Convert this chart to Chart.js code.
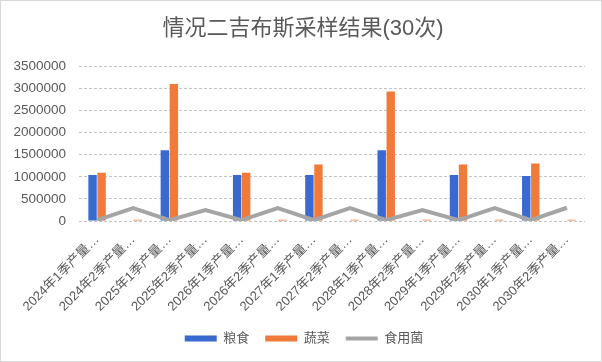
<!DOCTYPE html>
<html>
<head>
<meta charset="utf-8">
<script src="https://cdn.jsdelivr.net/npm/chart.js@4.4.1/dist/chart.umd.min.js"></script>
<style>
  body { margin: 0; background: #fff; }
  .box { width: 602px; height: 362px; box-sizing: border-box; border: 1px solid #d9d9d9; }
  canvas { display: block; }
</style>
</head>
<body>
<div class="box"><canvas id="chart" width="600" height="360"></canvas></div>
<script>
const categories = [
  '2024年1季产量…', '2024年2季产量…', '2025年1季产量…', '2025年2季产量…',
  '2026年1季产量…', '2026年2季产量…', '2027年1季产量…', '2027年2季产量…',
  '2028年1季产量…', '2028年2季产量…', '2029年1季产量…', '2029年2季产量…',
  '2030年1季产量…', '2030年2季产量…'
];
const grain = [1040000, 0, 1600000, 0, 1040000, 0, 1040000, 0, 1600000, 0, 1040000, 0, 1020000, 0];
const vegetables = [1090000, 30000, 3100000, 0, 1090000, 30000, 1280000, 30000, 2930000, 30000, 1280000, 30000, 1300000, 30000];
const mushrooms = [20000, 290000, 20000, 250000, 20000, 290000, 20000, 290000, 20000, 250000, 20000, 290000, 20000, 300000];

const font = '"Liberation Sans", "Noto Sans CJK SC", sans-serif';

// title and legend sit a bit right of the plot centre in the original
const shiftBoxes = {
  id: 'shiftBoxes',
  afterLayout(chart) {
    [[chart.titleBlock, 10], [chart.legend, 11]].forEach(([b, dx]) => {
      b.left += dx; b.right += dx;
    });
  }
};

new Chart(document.getElementById('chart'), {
  data: {
    labels: categories,
    datasets: [
      {
        type: 'bar', label: '粮食', data: grain,
        backgroundColor: '#3a69cf', pointStyle: 'rect',
        barPercentage: 0.93, categoryPercentage: 0.5, order: 1
      },
      {
        type: 'bar', label: '蔬菜', data: vegetables,
        backgroundColor: '#f07a3a', pointStyle: 'rect',
        barPercentage: 0.93, categoryPercentage: 0.5, order: 1
      },
      {
        type: 'line', label: '食用菌', data: mushrooms,
        borderColor: '#a5a5a5', backgroundColor: '#a5a5a5', borderWidth: 4,
        pointRadius: 0, pointStyle: 'line', tension: 0, order: 0
      }
    ]
  },
  plugins: [shiftBoxes],
  options: {
    responsive: false,
    animation: false,
    layout: { padding: { left: 0, right: 16, top: 0, bottom: 6 } },
    plugins: {
      title: {
        display: true,
        text: '情况二吉布斯采样结果(30次)',
        color: '#595959',
        font: { family: font, size: 22, weight: 'normal' },
        padding: { top: 15, bottom: 24 }
      },
      legend: {
        position: 'bottom',
        labels: {
          usePointStyle: true, pointStyleWidth: 32, boxHeight: 6,
          color: '#595959', padding: 16,
          font: { family: font, size: 13 },
          sort: (a, b) => a.datasetIndex - b.datasetIndex
        }
      },
      tooltip: { enabled: false }
    },
    scales: {
      x: {
        grid: { display: false },
        border: { display: false },
        ticks: {
          color: '#595959', maxRotation: 45, minRotation: 45, autoSkip: false,
          font: { family: font, size: 13 }
        },
        afterFit: s => { s.height = 95; }
      },
      y: {
        min: 0, max: 3500000,
        grid: { color: '#c4c4c4', drawTicks: false },
        border: { display: false, dash: [3, 2] },
        ticks: {
          stepSize: 500000, padding: 13, color: '#595959',
          font: { family: font, size: 13.5 },
          callback: v => String(v)
        },
        afterFit: s => { s.width = 78; }
      }
    }
  }
});
</script>
</body>
</html>
